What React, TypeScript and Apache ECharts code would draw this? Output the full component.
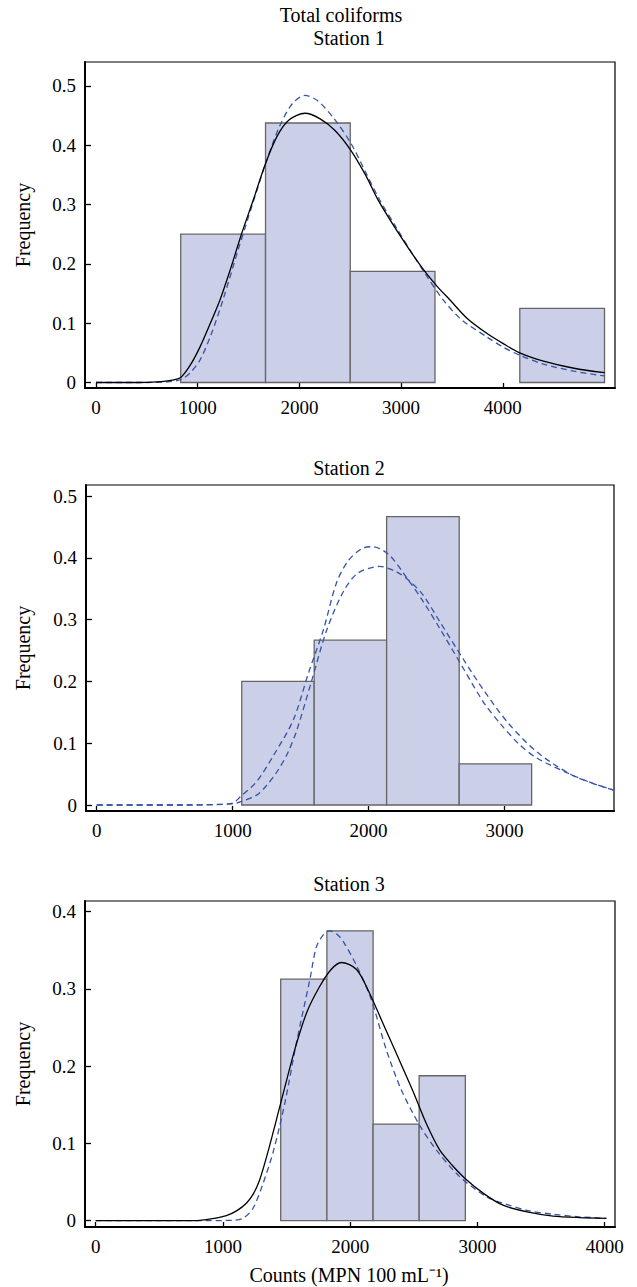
import React, { useEffect, useRef } from "react";
import * as echarts from "echarts";

// ---- Data ----
const mainTitle = "Total coliforms";
const stationTitles = ["Station 1", "Station 2", "Station 3"];
const yAxisTitle = "Frequency";
const xAxisTitle = "Counts (MPN 100 mL\u207B\u00B9)";

const s1Edges = [833, 1667, 2500, 3333, 4167, 5000];
const s1Freq = [0.25, 0.4375, 0.1875, 0, 0.125];
const s2Edges = [1067, 1600, 2133, 2667, 3200];
const s2Freq = [0.2, 0.2667, 0.4667, 0.0667];
const s3Edges = [1454, 1817, 2180, 2542, 2905];
const s3Freq = [0.3125, 0.375, 0.125, 0.1875];

const s1Solid = [
  [0, 0], [400, 0], [600, 0.001], [750, 0.004], [836, 0.009], [930, 0.03], [1023, 0.06], [1120, 0.098],
  [1219, 0.139], [1320, 0.19], [1430, 0.25], [1547, 0.308], [1669, 0.37], [1780, 0.415], [1900, 0.443],
  [2055, 0.454], [2200, 0.445], [2350, 0.425], [2504, 0.392], [2650, 0.35], [2773, 0.308], [3000, 0.245],
  [3200, 0.195], [3350, 0.163], [3481, 0.139], [3650, 0.108], [3842, 0.083], [4000, 0.066], [4166, 0.05],
  [4400, 0.036], [4700, 0.024], [5000, 0.0165],
];
const s1Dashed = [
  [0, 0], [500, 0], [700, 0.001], [836, 0.005], [930, 0.017], [1023, 0.038], [1130, 0.08], [1248, 0.139],
  [1400, 0.225], [1547, 0.305], [1669, 0.37], [1800, 0.43], [1930, 0.47], [2055, 0.484], [2180, 0.475],
  [2340, 0.445], [2504, 0.404], [2650, 0.355], [2789, 0.308], [2950, 0.262], [3100, 0.22], [3250, 0.18],
  [3415, 0.139], [3600, 0.105], [3842, 0.077], [4000, 0.06], [4166, 0.046], [4400, 0.031], [4700, 0.019],
  [5000, 0.011],
];
const s2DashedA = [
  [0, 0], [600, 0], [900, 0.001], [1001, 0.003], [1055, 0.013], [1177, 0.038], [1300, 0.08], [1447, 0.138],
  [1560, 0.215], [1667, 0.283], [1765, 0.36], [1850, 0.395], [1950, 0.415], [2030, 0.418], [2150, 0.405],
  [2293, 0.364], [2400, 0.33], [2526, 0.285], [2700, 0.22], [2850, 0.165], [2968, 0.132], [3100, 0.1],
  [3238, 0.076], [3483, 0.05], [3650, 0.035], [3806, 0.024],
];
const s2DashedB = [
  [0, 0], [700, 0], [1001, 0.002], [1055, 0.005], [1177, 0.016], [1251, 0.032], [1330, 0.055], [1407, 0.085],
  [1472, 0.121], [1580, 0.2], [1692, 0.283], [1814, 0.345], [1920, 0.375], [2080, 0.386], [2200, 0.378],
  [2293, 0.364], [2400, 0.34], [2526, 0.296], [2700, 0.235], [2850, 0.185], [3030, 0.132], [3238, 0.086],
  [3483, 0.05], [3650, 0.035], [3806, 0.024],
];
const s3Solid = [
  [0, 0], [700, 0], [817, 0.0005], [930, 0.003], [1027, 0.0065], [1110, 0.013], [1184, 0.0225], [1240, 0.035],
  [1289, 0.053], [1352, 0.088], [1454, 0.152], [1564, 0.221], [1660, 0.27], [1760, 0.303], [1850, 0.325],
  [1931, 0.334], [2050, 0.325], [2153, 0.294], [2250, 0.258], [2350, 0.221], [2500, 0.165], [2600, 0.125],
  [2703, 0.0915], [2800, 0.072], [2900, 0.055], [3050, 0.035], [3201, 0.02], [3400, 0.011], [3594, 0.006],
  [3800, 0.004], [4013, 0.003],
];
const s3Dashed = [
  [0, 0], [800, 0], [1079, 0.0005], [1158, 0.003], [1236, 0.016], [1315, 0.048], [1399, 0.0915], [1490, 0.155],
  [1577, 0.23], [1682, 0.311], [1734, 0.354], [1790, 0.37], [1840, 0.375], [1900, 0.37], [1950, 0.36],
  [2050, 0.33], [2166, 0.286], [2284, 0.221], [2400, 0.17], [2540, 0.125], [2677, 0.0915], [2860, 0.057],
  [3070, 0.031], [3201, 0.0225], [3400, 0.013], [3594, 0.0083], [3800, 0.005], [4013, 0.003],
];

const s1XTicks = [0, 1000, 2000, 3000, 4000];
const s2XTicks = [0, 1000, 2000, 3000];
const s3XTicks = [0, 1000, 2000, 3000, 4000];
const s1YTicks = [0, 0.1, 0.2, 0.3, 0.4, 0.5];
const s2YTicks = [0, 0.1, 0.2, 0.3, 0.4, 0.5];
const s3YTicks = [0, 0.1, 0.2, 0.3, 0.4];

const FONT = "Liberation Serif";
const FILL = "#cbcfe7";
const BAR_STROKE = "#666666";
const BLUE = "#3553a8";

function binsToData(edges: number[], freq: number[]) {
  const out: number[][] = [];
  for (let i = 0; i < freq.length; i++) {
    if (freq[i] > 0) out.push([edges[i], edges[i + 1], freq[i]]);
  }
  return out;
}

export default function App() {
  const ref = useRef<HTMLDivElement>(null);
  useEffect(() => {
    if (!ref.current) return;
    const chart = echarts.init(ref.current, null, { renderer: "svg" });

    const grids = [
      { left: 85, top: 62, width: 530, height: 326 },
      { left: 86, top: 485, width: 528, height: 326 },
      { left: 85, top: 901, width: 530, height: 326 },
    ];
    const xRanges = [
      [-108, 5103],
      [-79, 3806],
      [-84, 4081],
    ];
    const yRanges = [
      [-0.0093, 0.5404],
      [-0.0097, 0.5178],
      [-0.0082, 0.4136],
    ];
    const xTicks = [s1XTicks, s2XTicks, s3XTicks];
    const yTicks = [s1YTicks, s2YTicks, s3YTicks];

    const xAxes = grids.map((_, i) => ({
      type: "value",
      gridIndex: i,
      min: xRanges[i][0],
      max: xRanges[i][1],
      splitLine: { show: false },
      axisLine: { show: true, onZero: false, lineStyle: { color: "#000", width: 2 } },
      axisTick: { show: true, inside: true, length: 5, customValues: xTicks[i], lineStyle: { color: "#000", width: 1.3 } },
      axisLabel: {
        customValues: xTicks[i],
        color: "#000",
        fontFamily: FONT,
        fontSize: 19,
        margin: 10,
        formatter: (v: number) => String(Math.round(v)),
      },
    }));
    const yAxes = grids.map((_, i) => ({
      type: "value",
      gridIndex: i,
      min: yRanges[i][0],
      max: yRanges[i][1],
      splitLine: { show: false },
      axisLine: { show: true, onZero: false, lineStyle: { color: "#000", width: 2 } },
      axisTick: { show: true, inside: true, length: 6, customValues: yTicks[i], lineStyle: { color: "#000", width: 1.3 } },
      axisLabel: {
        customValues: yTicks[i],
        color: "#000",
        fontFamily: FONT,
        fontSize: 19,
        margin: 9,
        formatter: (v: number) => (Math.abs(v) < 1e-9 ? "0" : v.toFixed(1)),
      },
    }));

    const histRender = (params: any, api: any) => {
      const x0 = api.value(0);
      const x1 = api.value(1);
      const h = api.value(2);
      const p0 = api.coord([x0, 0]);
      const p1 = api.coord([x1, h]);
      return {
        type: "rect",
        shape: { x: p0[0], y: p1[1], width: p1[0] - p0[0], height: p0[1] - p1[1] },
        style: { fill: FILL, stroke: BAR_STROKE, lineWidth: 1.3 },
      };
    };

    const hist = (i: number, edges: number[], freq: number[]) => ({
      type: "custom",
      xAxisIndex: i,
      yAxisIndex: i,
      renderItem: histRender,
      encode: { x: [0, 1], y: 2 },
      data: binsToData(edges, freq),
      z: 1,
      silent: true,
    });
    const line = (i: number, data: number[][], dashed: boolean) => ({
      type: "line",
      xAxisIndex: i,
      yAxisIndex: i,
      data,
      showSymbol: false,
      smooth: 0.3,
      z: 3,
      silent: true,
      lineStyle: dashed
        ? { color: BLUE, width: 1.3, type: [6, 4] }
        : { color: "#000", width: 1.3, type: "solid" },
    });

    const titleText = (text: string, x: number, y: number) => ({
      type: "text",
      x,
      y,
      style: { text, fill: "#000", fontFamily: FONT, fontSize: 20, textAlign: "center", textVerticalAlign: "middle" },
    });
    const freqText = (y: number) => ({
      type: "text",
      x: 23,
      y,
      rotation: Math.PI / 2,
      style: { text: yAxisTitle, fill: "#000", fontFamily: FONT, fontSize: 20, textAlign: "center", textVerticalAlign: "middle" },
    });

    chart.setOption({
      animation: false,
      backgroundColor: "#fff",
      grid: grids.map((g) => ({ ...g, show: true, borderColor: "#000", borderWidth: 1.2, backgroundColor: "transparent" })),
      xAxis: xAxes,
      yAxis: yAxes,
      series: [
        hist(0, s1Edges, s1Freq),
        line(0, s1Dashed, true),
        line(0, s1Solid, false),
        hist(1, s2Edges, s2Freq),
        line(1, s2DashedA, true),
        line(1, s2DashedB, true),
        hist(2, s3Edges, s3Freq),
        line(2, s3Dashed, true),
        line(2, s3Solid, false),
      ],
      graphic: [
        titleText(mainTitle, 341, 15),
        titleText(stationTitles[0], 349, 38),
        titleText(stationTitles[1], 349, 468),
        titleText(stationTitles[2], 349, 884),
        titleText(xAxisTitle, 349, 1275),
        freqText(225),
        freqText(648),
        freqText(1064),
      ],
    });
    return () => chart.dispose();
  }, []);
  return <div ref={ref} style={{ position: "fixed", left: 0, top: 0, width: 637, height: 1287, background: "#fff" }} />;
}
